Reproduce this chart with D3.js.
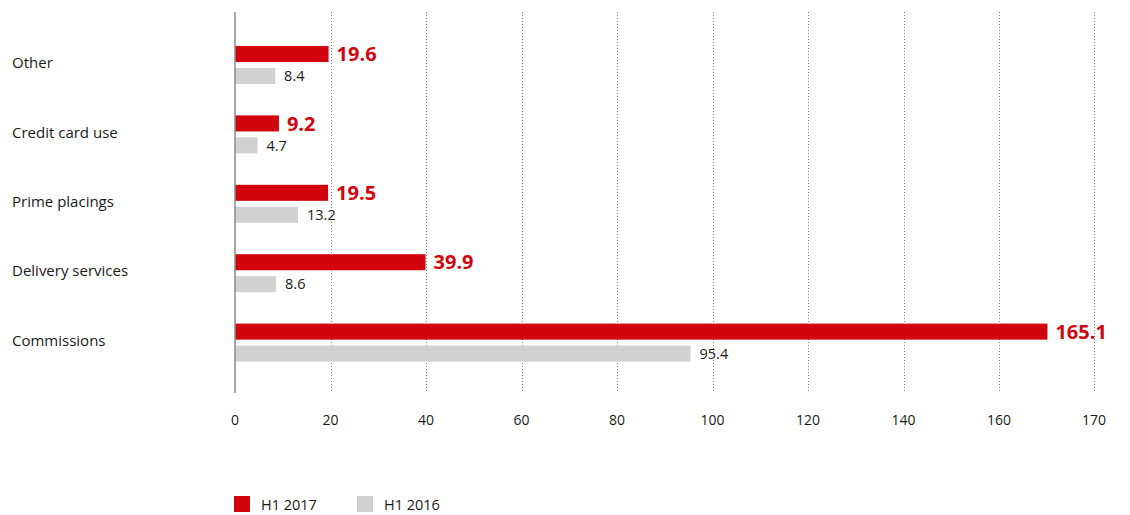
<!DOCTYPE html>
<html>
<head>
<meta charset="utf-8">
<script src="https://cdn.jsdelivr.net/npm/d3@7"></script>
<style>
  body { margin: 0; background: #fff; }
  svg { display: block; font-family: "Open Sans", sans-serif; }
  .grid line { stroke: #888; stroke-dasharray: 1,2; }
</style>
</head>
<body>
<svg class="chart" width="1130" height="515"></svg>
<script>
var categories = ["Other", "Credit card use", "Prime placings", "Delivery services", "Commissions"];
var series = ["H1 2017", "H1 2016"];
var h1_2017 = [19.6, 9.2, 19.5, 39.9, 165.1];
var h1_2016 = [8.4, 4.7, 13.2, 8.6, 95.4];
var tickValues = [0, 20, 40, 60, 80, 100, 120, 140, 160, 170];
var colors = ["#d2050f", "#d0d1d0"];

var chart = d3.select(".chart");

// ticks are evenly spaced even though the last step is only 10
var x = d3.scaleLinear()
          .domain([0, 160, 170])
          .range([235, 999, 1094]);

var y = d3.scaleBand()
          .domain(categories)
          .range([30.5, 377.5])
          .padding(0);

var ySub = d3.scaleBand()
             .domain(series)
             .range([15.5, 53.5])
             .paddingInner(0.27);

// gridlines
chart.append("g")
     .attr("class", "grid")
     .selectAll("line")
     .data(tickValues.slice(1))
     .enter().append("line")
       .attr("x1", function(d){ return Math.round(x(d)) + 0.5; })
       .attr("x2", function(d){ return Math.round(x(d)) + 0.5; })
       .attr("y1", 12)
       .attr("y2", 393);

// tick labels
chart.append("g")
     .selectAll("text")
     .data(tickValues)
     .enter().append("text")
       .attr("x", function(d){ return x(d); })
       .attr("y", 425)
       .attr("text-anchor", "middle")
       .attr("font-size", 14)
       .attr("fill", "#1a1a1a")
       .text(function(d){ return d; });

// category labels
chart.append("g")
     .selectAll("text")
     .data(categories)
     .enter().append("text")
       .attr("x", 12)
       .attr("y", function(d){ return y(d) + 32.5; })
       .attr("dy", ".35em")
       .attr("font-size", 15)
       .attr("fill", "#1a1a1a")
       .text(function(d){ return d; });

var rows = categories.map(function(c, i){
  return { cat: c, vals: [h1_2017[i], h1_2016[i]] };
});

var groups = chart.selectAll(".group")
                  .data(rows)
                  .enter().append("g")
                    .attr("class", "group")
                    .attr("transform", function(d){ return "translate(0," + y(d.cat) + ")"; });

var bars = groups.selectAll("g")
                 .data(function(d){
                   return d.vals.map(function(v, j){ return { s: series[j], v: v, j: j }; });
                 })
                 .enter().append("g");

bars.append("rect")
    .attr("x", x(0))
    .attr("y", function(d){ return ySub(d.s); })
    .attr("width", function(d){ return x(d.v) - x(0); })
    .attr("height", ySub.bandwidth())
    .attr("fill", function(d){ return colors[d.j]; });

bars.append("text")
    .attr("x", function(d){ return x(d.v) + (d.j === 0 ? 8 : 9); })
    .attr("y", function(d){ return ySub(d.s) + ySub.bandwidth() / 2; })
    .attr("dy", ".36em")
    .attr("font-size", function(d){ return d.j === 0 ? 20 : 14.5; })
    .attr("font-weight", function(d){ return d.j === 0 ? "bold" : "normal"; })
    .attr("fill", function(d){ return d.j === 0 ? colors[0] : "#1a1a1a"; })
    .text(function(d){ return d.v.toFixed(1); });

// zero axis line
chart.append("line")
     .attr("x1", x(0))
     .attr("x2", x(0))
     .attr("y1", 12)
     .attr("y2", 393)
     .attr("stroke", "#8a8a8a")
     .attr("stroke-width", 1.5);

// legend
var legend = chart.selectAll(".legend")
                  .data(series)
                  .enter().append("g")
                    .attr("class", "legend")
                    .attr("transform", function(d, i){ return "translate(" + (234 + i * 123) + ",496)"; });

legend.append("rect")
      .attr("width", 16)
      .attr("height", 16)
      .attr("fill", function(d, i){ return colors[i]; });

legend.append("text")
      .attr("x", 27)
      .attr("y", 8)
      .attr("dy", ".38em")
      .attr("font-size", 14.5)
      .attr("fill", "#1a1a1a")
      .text(function(d){ return d; });
</script>
</body>
</html>
